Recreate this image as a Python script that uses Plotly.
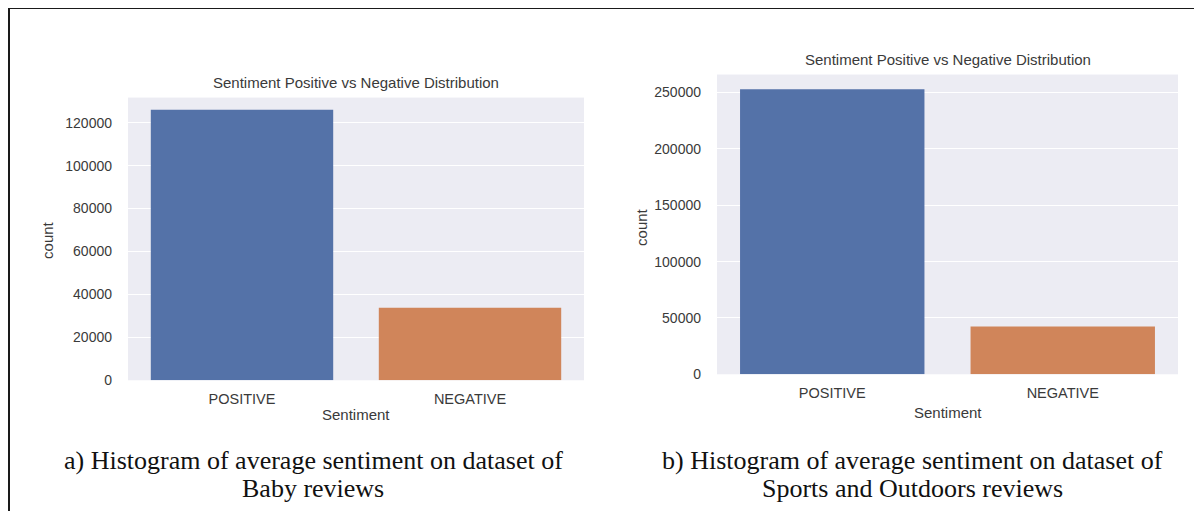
import plotly.graph_objects as go
from plotly.subplots import make_subplots

# data
categories = ["POSITIVE", "NEGATIVE"]
baby_counts = [126000, 33800]
sports_counts = [253000, 42500]
baby_ticks = [0, 20000, 40000, 60000, 80000, 100000, 120000]
sports_ticks = [0, 50000, 100000, 150000, 200000, 250000]
chart_title = "Sentiment Positive vs Negative Distribution"
captions_a = ["a) Histogram of average sentiment on dataset of", "Baby reviews"]
captions_b = ["b) Histogram of average sentiment on dataset of", "Sports and Outdoors reviews"]

# the page body has an 8px margin; the snapshot also comes out a bit squashed in y
OFF = 8
YS = 0.982
W, H = 1202 - OFF, 512
bar_colors = ["#5472a8", "#d0855a"]
txt = "#3a3a3a"
sans = "Liberation Sans, Arial, sans-serif"
serif = "Liberation Serif, Times New Roman, serif"


def px(x):
    return (x - OFF) / W


def py(y):
    yi = (y - 0.76) / YS
    return 1 - (yi - OFF) / H


fig = make_subplots(rows=1, cols=2)

fig.add_trace(go.Bar(x=categories, y=baby_counts, marker=dict(color=bar_colors, line=dict(width=0)),
                     showlegend=False), row=1, col=1)
fig.add_trace(go.Bar(x=categories, y=sports_counts, marker=dict(color=bar_colors, line=dict(width=0)),
                     showlegend=False), row=1, col=2)

axis_common = dict(
    showgrid=True, gridcolor="white", gridwidth=1.2, zeroline=False, showline=False, ticks="",
)

fig.update_layout(
    width=W,
    height=H,
    margin=dict(l=0, r=0, t=0, b=0),
    paper_bgcolor="white",
    plot_bgcolor="#ececf3",
    bargap=0.2,
    xaxis=dict(domain=[px(128), px(584)], range=[-0.5, 1.5], **axis_common),
    yaxis=dict(domain=[py(380), py(98)], range=[0, 131700], tickvals=baby_ticks,
               ticktext=[str(v) for v in baby_ticks], **axis_common),
    xaxis2=dict(domain=[px(717), px(1178)], range=[-0.5, 1.5], **axis_common),
    yaxis2=dict(domain=[py(374), py(75)], range=[0, 266000], tickvals=sports_ticks,
                ticktext=[str(v) for v in sports_ticks], **axis_common),
)
fig.update_xaxes(showgrid=False, ticklabelstandoff=8, tickfont=dict(family=sans, size=14.5, color=txt))
fig.update_yaxes(ticklabelstandoff=15, tickfont=dict(family=sans, size=14, color=txt))

ann = []
# chart titles
ann.append(dict(x=px(356), y=py(83), text=chart_title))
ann.append(dict(x=px(948), y=py(60), text=chart_title))
# axis titles
ann.append(dict(x=px(356), y=py(414), text="Sentiment"))
ann.append(dict(x=px(948), y=py(412), text="Sentiment"))
ann.append(dict(x=px(48), y=py(240), text="count", textangle=-90))
ann.append(dict(x=px(642), y=py(227), text="count", textangle=-90))
for a in ann:
    a.update(xref="paper", yref="paper", showarrow=False, xanchor="center", yanchor="middle",
             font=dict(family=sans, size=15, color=txt))

# captions
for cx, lines in [(313, captions_a), (912, captions_b)]:
    for cy, line in zip([460, 488], lines):
        ann.append(dict(x=px(cx), y=py(cy), text=line, xref="paper", yref="paper", showarrow=False,
                        xanchor="center", yanchor="middle",
                        font=dict(family=serif, size=26, color="#111")))
fig.update_layout(annotations=ann)

# figure frame
fig.add_shape(type="line", xref="paper", yref="paper", x0=px(9), x1=px(9), y0=0, y1=py(8),
              line=dict(color="#1a1a1a", width=2))
fig.add_shape(type="line", xref="paper", yref="paper", x0=px(8), x1=px(1201), y0=py(8.5), y1=py(8.5),
              line=dict(color="#1a1a1a", width=2))
fig.add_shape(type="line", xref="paper", yref="paper", x0=px(1200), x1=px(1200), y0=0, y1=py(8),
              line=dict(color="#d0d0d0", width=1))

fig.write_html("out.html")
